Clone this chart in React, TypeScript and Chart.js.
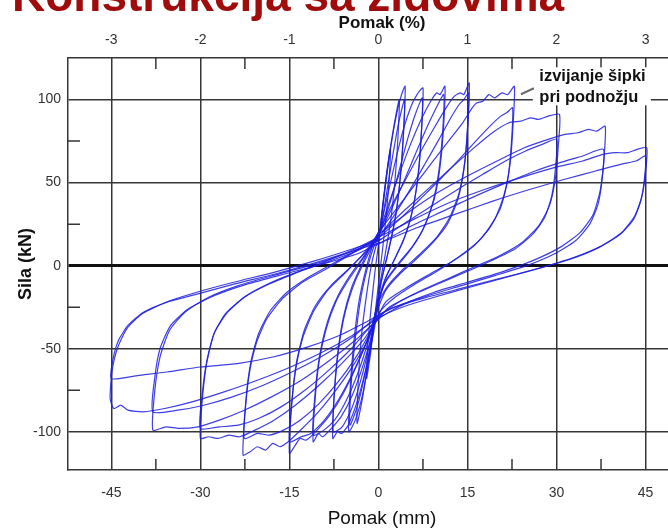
import React, { useEffect, useRef } from 'react';
import { Chart, registerables } from 'chart.js';

Chart.register(...registerables);

// ---------- axis data ----------
const MM_TICKS = [-45, -30, -15, 0, 15, 30, 45];
const MM_MINOR = [-37.5, -22.5, -7.5, 7.5, 22.5, 37.5];
const KN_TICKS = [-100, -50, 0, 50, 100];
const KN_MINOR = [-75, -25, 25, 75];
const MM_PER_PERCENT = 15;
const X_MIN = -52.3;
const X_MAX = 53.5;
const Y_MIN = -123;
const Y_MAX = 125;

const TITLE_TEXT = 'Konstrukcija sa zidovima';
const X_TITLE = 'Pomak (mm)';
const X2_TITLE = 'Pomak (%)';
const Y_TITLE = 'Sila (kN)';
const NOTE_LINES = ['izvijanje šipki', 'pri podnožju'];

// ---------- hysteresis cycles: [displacement mm, force kN] ----------
const cyc02: [number, number][] = [
  [0.2, 18], [0.8, 38], [1.4, 56], [2.0, 70], [1.8, 52], [1.3, 30], [0.7, 10], [0.1, -8],
  [-0.6, -30], [-1.3, -52], [-2.0, -68], [-1.8, -48], [-1.2, -24], [-0.6, -4], [0.2, 18],
];
const cyc035: [number, number][] = [
  [0.2, 20], [0.9, 42], [1.8, 66], [2.7, 86], [3.5, 100], [3.3, 78], [2.8, 52], [2.1, 28], [1.2, 8],
  [0.2, -12], [-0.8, -36], [-1.8, -60], [-2.8, -82], [-3.6, -95], [-3.4, -70], [-2.9, -44],
  [-2.1, -20], [-1.1, 2], [0.2, 20],
];
const cyc045a: [number, number][] = [
  [0.3, 22], [1.1, 46], [2.1, 72], [3.1, 92], [3.9, 103], [4.5, 108], [4.3, 86], [3.8, 58], [3.0, 32],
  [1.9, 12], [0.7, -6], [-0.4, -28], [-1.5, -54], [-2.7, -78], [-3.9, -93], [-5.0, -100],
  [-4.8, -76], [-4.2, -48], [-3.3, -22], [-2.1, -2], [-0.8, 14], [0.3, 22],
];
const cyc045b: [number, number][] = [
  [0.3, 20], [1.3, 42], [2.4, 66], [3.4, 86], [4.4, 100], [4.2, 78], [3.6, 50], [2.7, 26], [1.5, 6],
  [0.3, -12], [-0.9, -38], [-2.2, -64], [-3.5, -84], [-4.8, -96], [-4.6, -72], [-3.9, -44],
  [-2.9, -18], [-1.6, 2], [-0.3, 16], [0.3, 20],
];
const cyc075a: [number, number][] = [
  [0.3, 22], [1.4, 40], [2.8, 62], [4.2, 82], [5.5, 96], [6.5, 103], [7.5, 107], [7.3, 84], [6.8, 58],
  [5.9, 36], [4.6, 19], [3.0, 6], [1.4, -6], [0.2, -20], [-0.8, -40], [-2.1, -62], [-3.6, -82],
  [-5.1, -96], [-6.2, -101], [-6.9, -100], [-7.7, -104], [-7.5, -80], [-6.9, -54], [-5.9, -31],
  [-4.5, -13], [-2.9, 0], [-1.3, 12], [0.3, 22],
];
const cyc075b: [number, number][] = [
  [0.3, 20], [1.8, 36], [3.4, 56], [4.9, 76], [6.2, 91], [7.4, 101], [7.2, 78], [6.6, 52], [5.6, 31],
  [4.2, 15], [2.6, 3], [1.0, -9], [-0.2, -24], [-1.4, -46], [-2.9, -68], [-4.5, -86], [-6.1, -97],
  [-7.6, -100], [-7.4, -76], [-6.7, -50], [-5.6, -28], [-4.0, -10], [-2.3, 3], [-0.7, 14], [0.3, 20],
];
const cyc11a: [number, number][] = [
  [0.3, 22], [1.8, 38], [3.6, 56], [5.4, 73], [7.2, 88], [8.8, 99], [9.8, 104], [10.4, 103], [11.2, 108],
  [11.0, 85], [10.4, 60], [9.4, 40], [7.8, 24], [5.8, 12], [3.5, 2], [1.4, -8], [0.1, -20],
  [-1.0, -40], [-2.6, -60], [-4.4, -78], [-6.3, -91], [-8.2, -99], [-9.4, -103], [-10.1, -101],
  [-11.0, -106], [-10.7, -82], [-10.0, -58], [-8.8, -38], [-7.2, -22], [-5.3, -10], [-3.2, 1],
  [-1.2, 12], [0.3, 22],
];
const cyc11b: [number, number][] = [
  [0.3, 20], [2.2, 34], [4.2, 50], [6.2, 67], [8.0, 82], [9.6, 94], [11.0, 103], [10.8, 80], [10.1, 55],
  [9.0, 36], [7.4, 21], [5.3, 9], [3.0, -1], [1.0, -11], [-0.2, -24], [-1.6, -44], [-3.4, -64],
  [-5.4, -81], [-7.4, -93], [-9.2, -99], [-11.0, -102], [-10.7, -78], [-9.9, -54], [-8.6, -34],
  [-6.8, -18], [-4.8, -6], [-2.6, 5], [-0.6, 15], [0.3, 20],
];
const cyc15a: [number, number][] = [
  [0.3, 22], [2.2, 36], [4.6, 52], [7.0, 68], [9.4, 83], [11.4, 95], [12.8, 102], [13.8, 104],
  [14.4, 103], [15.3, 110], [15.1, 88], [14.6, 64], [13.6, 44], [12.0, 29], [9.8, 17], [7.0, 7],
  [4.2, -2], [1.6, -12], [0.0, -22], [-1.4, -40], [-3.4, -58], [-5.8, -76], [-8.2, -90],
  [-10.6, -100], [-12.2, -105], [-13.2, -104], [-14.0, -108], [-15.0, -113], [-14.7, -88],
  [-14.0, -64], [-12.8, -44], [-11.0, -28], [-8.6, -15], [-5.8, -5], [-2.8, 6], [0.3, 20],
];
const cyc15b: [number, number][] = [
  [0.3, 18], [2.6, 30], [5.2, 45], [7.8, 61], [10.2, 76], [12.2, 89], [13.6, 97], [14.4, 100],
  [15.2, 104], [15.0, 82], [14.4, 58], [13.3, 39], [11.6, 25], [9.2, 14], [6.4, 4], [3.6, -5],
  [1.2, -15], [-0.2, -27], [-1.9, -45], [-4.1, -63], [-6.6, -80], [-9.1, -93], [-11.4, -101],
  [-13.0, -103], [-15.0, -106], [-14.6, -82], [-13.8, -58], [-12.5, -39], [-10.6, -24],
  [-8.0, -12], [-5.0, -2], [-2.2, 8], [0.3, 18],
];
const cyc23a: [number, number][] = [
  [0.4, 22], [3.0, 34], [6.0, 48], [9.0, 62], [11.8, 75], [14.2, 86], [15.8, 95], [16.6, 98],
  [17.6, 99], [18.6, 103], [19.6, 101], [20.8, 104], [21.8, 103], [22.9, 108], [22.7, 86],
  [22.2, 62], [21.2, 43], [19.6, 28], [17.2, 16], [13.8, 6], [10.0, -3], [6.2, -11], [2.8, -19],
  [0.2, -28], [-1.8, -45], [-4.6, -62], [-7.6, -77], [-10.6, -90], [-13.4, -100], [-15.2, -106],
  [-16.6, -109], [-17.8, -107], [-19.0, -111], [-20.4, -109], [-21.6, -112], [-22.8, -114],
  [-22.5, -90], [-21.8, -66], [-20.6, -47], [-18.8, -32], [-16.2, -20], [-12.8, -10],
  [-8.8, -2], [-4.6, 7], [-1.0, 15], [0.4, 20],
];
const cyc23b: [number, number][] = [
  [0.4, 18], [3.6, 28], [7.0, 40], [10.4, 52], [13.6, 64], [16.4, 75], [18.8, 84], [20.6, 90],
  [21.6, 92], [22.6, 95], [22.4, 74], [21.8, 52], [20.6, 35], [18.6, 22], [15.8, 11], [12.2, 2],
  [8.2, -6], [4.4, -14], [1.2, -22], [-0.8, -36], [-3.6, -54], [-6.8, -70], [-10.0, -83],
  [-13.2, -93], [-16.0, -99], [-18.4, -102], [-20.4, -101], [-22.6, -104], [-22.3, -80],
  [-21.5, -58], [-20.2, -41], [-18.2, -27], [-15.4, -16], [-11.8, -7], [-7.8, 1], [-3.8, 9],
  [-0.4, 16], [0.4, 18],
];
const cyc30a: [number, number][] = [
  [0.5, 20], [4.0, 32], [8.0, 45], [12.0, 58], [15.8, 70], [19.2, 80], [22.0, 86], [24.0, 87],
  [25.6, 89], [27.0, 88], [28.6, 90], [30.5, 91], [30.3, 72], [29.8, 52], [28.8, 36], [27.0, 24],
  [24.2, 14], [20.4, 6], [16.0, -1], [11.6, -8], [7.2, -15], [3.4, -22], [0.4, -30], [-2.6, -45],
  [-6.2, -59], [-10.0, -72], [-14.0, -84], [-17.6, -93], [-20.8, -99], [-23.4, -103],
  [-25.2, -102], [-27.0, -104], [-28.6, -103], [-30.0, -104], [-29.7, -82], [-29.0, -60],
  [-27.8, -42], [-25.8, -29], [-22.6, -19], [-18.4, -11], [-13.6, -4], [-8.6, 3], [-4.0, 10],
  [0.5, 18],
];
const cyc30b: [number, number][] = [
  [0.5, 16], [4.6, 26], [9.0, 36], [13.4, 46], [17.6, 55], [21.4, 63], [24.8, 69], [27.6, 73],
  [30.0, 76], [29.8, 58], [29.2, 42], [28.0, 29], [26.0, 19], [23.0, 10], [19.0, 3], [14.6, -4],
  [10.0, -11], [5.6, -18], [1.8, -25], [-1.2, -36], [-4.6, -50], [-8.4, -63], [-12.4, -75],
  [-16.4, -85], [-20.2, -92], [-23.6, -96], [-26.8, -97], [-30.0, -98], [-29.7, -78],
  [-28.9, -57], [-27.6, -40], [-25.4, -28], [-22.2, -18], [-18.0, -10], [-13.0, -3], [-8.0, 3],
  [-3.6, 9], [0.5, 16],
];
const cyc38a: [number, number][] = [
  [0.5, 20], [5.0, 32], [10.0, 44], [15.0, 54], [20.0, 63], [24.6, 71], [28.6, 76], [31.4, 79],
  [33.6, 80], [35.4, 82], [36.8, 81], [38.2, 84], [38.0, 65], [37.4, 46], [36.2, 31], [34.0, 20],
  [30.6, 11], [26.0, 3], [20.6, -4], [15.0, -10], [9.4, -16], [4.4, -23], [0.4, -31],
  [-3.6, -44], [-8.2, -57], [-13.0, -69], [-18.0, -79], [-22.6, -87], [-26.8, -93], [-30.4, -97],
  [-33.6, -98], [-35.8, -97], [-38.0, -99], [-37.7, -76], [-36.8, -55], [-35.2, -39],
  [-32.6, -28], [-28.6, -19], [-23.6, -12], [-17.8, -6], [-11.6, 0], [-5.6, 7], [0.5, 16],
];
const cyc38b: [number, number][] = [
  [0.5, 14], [5.6, 24], [11.0, 33], [16.4, 42], [21.6, 50], [26.4, 57], [30.6, 62], [34.4, 66],
  [37.9, 70], [37.7, 53], [37.0, 37], [35.6, 25], [33.2, 15], [29.6, 7], [25.0, 0], [19.6, -6],
  [14.0, -12], [8.4, -18], [3.4, -24], [0.0, -30], [-4.0, -42], [-8.8, -53], [-14.0, -63],
  [-19.4, -72], [-24.6, -79], [-29.4, -84], [-33.8, -87], [-38.0, -88], [-37.7, -68],
  [-36.8, -50], [-35.0, -36], [-32.0, -26], [-27.6, -18], [-22.0, -11], [-15.8, -5], [-9.4, 1],
  [-3.6, 7], [0.5, 14],
];
const cyc45a: [number, number][] = [
  [0.5, 18], [6.0, 28], [12.0, 38], [18.0, 46], [24.0, 53], [29.6, 59], [34.4, 63], [37.8, 67],
  [40.0, 68], [42.0, 68], [43.6, 70], [45.2, 71], [45.0, 56], [44.4, 42], [43.2, 30], [41.0, 20],
  [37.6, 12], [33.0, 5], [27.6, -1], [21.6, -7], [15.4, -13], [9.4, -19], [4.0, -25], [0.2, -31],
  [-4.4, -42], [-9.4, -52], [-14.8, -61], [-20.4, -69], [-26.0, -76], [-31.4, -82], [-36.0, -86],
  [-39.6, -88], [-42.2, -87], [-43.4, -84], [-44.6, -86], [-45.2, -80], [-44.9, -64],
  [-44.0, -50], [-42.4, -38], [-39.8, -29], [-35.8, -22], [-30.6, -16], [-24.4, -10],
  [-17.6, -4], [-10.6, 3], [-4.4, 10], [0.5, 16],
];
const cyc45b: [number, number][] = [
  [0.5, 14], [6.6, 23], [13.0, 31], [19.4, 39], [25.6, 46], [31.4, 52], [36.6, 57], [40.8, 61],
  [43.4, 63], [45.0, 66], [44.8, 52], [44.2, 39], [43.0, 28], [40.8, 19], [37.2, 11], [32.4, 4],
  [26.6, -2], [20.2, -8], [13.6, -14], [7.2, -20], [2.0, -26], [-1.6, -33], [-6.6, -42],
  [-12.0, -49], [-17.8, -55], [-23.8, -59], [-30.0, -61], [-35.6, -64], [-40.4, -66],
  [-45.0, -68], [-44.7, -56], [-43.8, -45], [-42.2, -36], [-39.6, -28], [-35.6, -22],
  [-30.4, -17], [-24.2, -11], [-17.4, -5], [-10.4, 2], [-4.2, 9], [0.5, 14],
];

const CYCLES = [
  cyc02, cyc035, cyc045a, cyc045b, cyc075a, cyc075b, cyc11a, cyc11b, cyc15a, cyc15b,
  cyc23a, cyc23b, cyc30a, cyc30b, cyc38a, cyc38b, cyc45a, cyc45b,
];

// annotation anchor in data units (mm, kN)
const NOTE_BOX = { x0: 26.0, x1: 45.9, y0: 119.4, y1: 96.5 };
const NOTE_TEXT_X = 27.1;
const NOTE_TEXT_Y = [114, 101.4];
const NOTE_LEADER = { x0: 24.0, y0: 103.2, x1: 26.2, y1: 106.8 };

const FONT = '"Liberation Sans", Arial, Helvetica, sans-serif';
const GRID = '#363636';
const LINE_BLUE = 'rgba(28, 28, 225, 0.85)';

export default function App() {
  const ref = useRef<HTMLCanvasElement>(null);

  useEffect(() => {
    if (!ref.current) return;
    Chart.defaults.font.family = FONT;

    const decor = {
      id: 'decor',
      beforeDatasetsDraw(chart: any) {
        const { ctx } = chart;
        const xs = chart.scales.x;
        const ys = chart.scales.y;
        const { top, bottom, left } = chart.chartArea;
        ctx.save();
        ctx.strokeStyle = GRID;
        ctx.lineWidth = 1.5;
        ctx.beginPath();
        for (const v of MM_MINOR) {
          const px = xs.getPixelForValue(v);
          ctx.moveTo(px, top);
          ctx.lineTo(px, top + 11);
          ctx.moveTo(px, bottom);
          ctx.lineTo(px, bottom - 11);
        }
        for (const v of KN_MINOR) {
          const py = ys.getPixelForValue(v);
          ctx.moveTo(left, py);
          ctx.lineTo(left + 12, py);
        }
        ctx.stroke();
        ctx.restore();
      },
      afterDatasetsDraw(chart: any) {
        const { ctx } = chart;
        const xs = chart.scales.x;
        const ys = chart.scales.y;
        ctx.save();
        const bx0 = xs.getPixelForValue(NOTE_BOX.x0);
        const bx1 = xs.getPixelForValue(NOTE_BOX.x1);
        const by0 = ys.getPixelForValue(NOTE_BOX.y0);
        const by1 = ys.getPixelForValue(NOTE_BOX.y1);
        ctx.fillStyle = '#ffffff';
        ctx.fillRect(bx0, by0, bx1 - bx0, by1 - by0);
        ctx.strokeStyle = '#6a6a6a';
        ctx.lineWidth = 2;
        ctx.beginPath();
        ctx.moveTo(xs.getPixelForValue(NOTE_LEADER.x0), ys.getPixelForValue(NOTE_LEADER.y0));
        ctx.lineTo(xs.getPixelForValue(NOTE_LEADER.x1), ys.getPixelForValue(NOTE_LEADER.y1));
        ctx.stroke();
        ctx.fillStyle = '#111';
        ctx.font = `bold 16.5px ${FONT}`;
        ctx.textAlign = 'left';
        ctx.textBaseline = 'middle';
        NOTE_LINES.forEach((t, i) => {
          ctx.fillText(t, xs.getPixelForValue(NOTE_TEXT_X), ys.getPixelForValue(NOTE_TEXT_Y[i]));
        });
        ctx.restore();
      },
      afterDraw(chart: any) {
        const { ctx } = chart;
        ctx.save();
        ctx.fillStyle = '#a00c0c';
        ctx.font = `bold 46px ${FONT}`;
        ctx.textAlign = 'left';
        ctx.textBaseline = 'alphabetic';
        ctx.fillText(TITLE_TEXT, 12, 11);
        ctx.restore();
      },
    };

    const chart = new Chart(ref.current, {
      type: 'scatter',
      data: {
        datasets: CYCLES.map((c, i) => ({
          label: `cycle ${i + 1}`,
          data: c.map(([x, y]) => ({ x, y })),
          showLine: true,
          borderColor: LINE_BLUE,
          backgroundColor: LINE_BLUE,
          borderWidth: 1.2,
          pointRadius: 0,
          tension: 0.2,
          fill: false,
        })),
      },
      options: {
        responsive: false,
        animation: false,
        devicePixelRatio: 1,
        layout: { padding: 0 },
        plugins: {
          legend: { display: false },
          tooltip: { enabled: false },
          title: { display: false },
        },
        scales: {
          x: {
            type: 'linear',
            position: 'bottom',
            min: X_MIN,
            max: X_MAX,
            afterBuildTicks: (s: any) => { s.ticks = MM_TICKS.map((value) => ({ value })); },
            afterFit: (s: any) => { s.height = 62; },
            grid: { color: GRID, lineWidth: 1.5, drawTicks: false },
            border: { color: GRID, width: 1.5 },
            ticks: {
              padding: 15, color: '#333', font: { size: 14 }, maxRotation: 0, autoSkip: false,
              callback: (v: any) => String(v),
            },
            title: {
              display: true, text: X_TITLE, color: '#111', font: { size: 19 },
              padding: { top: 0, bottom: 2 },
            },
          },
          x2: {
            type: 'linear',
            position: 'top',
            min: X_MIN,
            max: X_MAX,
            afterBuildTicks: (s: any) => { s.ticks = MM_TICKS.map((value) => ({ value })); },
            afterFit: (s: any) => { s.height = 58; },
            grid: { display: false, drawTicks: false },
            border: { color: GRID, width: 1.5 },
            ticks: {
              padding: 9.6, color: '#333', font: { size: 14 }, maxRotation: 0, autoSkip: false,
              callback: (v: any) => String(Number(v) / MM_PER_PERCENT),
            },
            title: {
              display: true, text: X2_TITLE, color: '#111', font: { size: 17, weight: 'bold' },
              padding: { top: 13, bottom: 0 },
            },
          },
          y: {
            type: 'linear',
            position: 'left',
            min: Y_MIN,
            max: Y_MAX,
            afterBuildTicks: (s: any) => { s.ticks = KN_TICKS.map((value) => ({ value })); },
            afterFit: (s: any) => { s.width = 68; },
            grid: {
              drawTicks: false,
              color: (c: any) => (c.tick && c.tick.value === 0 ? '#111' : GRID),
              lineWidth: (c: any) => (c.tick && c.tick.value === 0 ? 3 : 1.5),
            },
            border: { color: GRID, width: 1.5 },
            ticks: {
              padding: 7, color: '#333', font: { size: 14 }, autoSkip: false,
              callback: (v: any) => String(v),
            },
            title: {
              display: true, text: Y_TITLE, color: '#111', font: { size: 18, weight: 'bold' },
              padding: { top: 15, bottom: 0 },
            },
          },
        },
      },
      plugins: [decor],
    } as any);

    return () => chart.destroy();
  }, []);

  return (
    <div
      style={{
        position: 'absolute', left: 0, top: 0, width: 668, height: 532,
        overflow: 'hidden', background: '#ffffff',
      }}
    >
      <canvas ref={ref} width={696} height={532} style={{ display: 'block', width: 696, height: 532 }} />
    </div>
  );
}
